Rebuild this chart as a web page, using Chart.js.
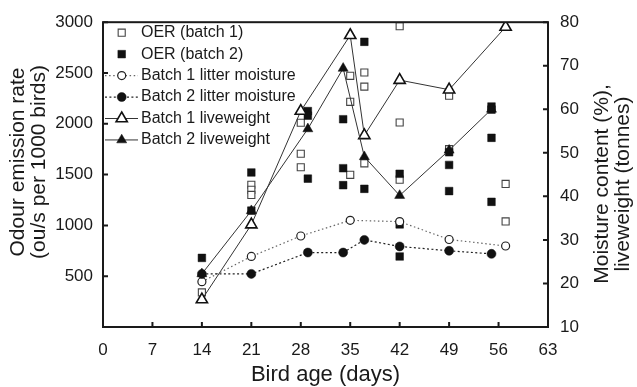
<!DOCTYPE html>
<html><head><meta charset="utf-8">
<script src="https://cdn.jsdelivr.net/npm/chart.js@4/dist/chart.umd.min.js"></script>
<style>html,body{margin:0;padding:0;background:#fff;}#wrap{width:637px;height:387px;}</style>
</head><body><div id="wrap"><canvas id="c" width="637" height="387"></canvas></div>
<script>
// ---- data ----
const oer1Days = [14,21,21,21,28,28,28,35,35,35,37,37,37,42,42,42,49,49,57,57];
const oer1Vals = [340,1400,1350,1300,2010,1705,1572,2472,2216,1498,2505,2366,1611,2961,2013,1450,2276,1750,1408,1039];
const oer2Days = [14,21,21,29,29,29,34,34,34,37,37,42,42,42,49,49,49,55,55,55,55];
const oer2Vals = [680,1521,1145,2125,2080,1460,2045,1563,1396,2807,1360,1508,1010,694,1720,1595,1338,2170,2140,1862,1232];
const moist1Days = [14,21,28,35,42,49,57];
const moist1Vals = [20.4,26.2,30.9,34.5,34.2,30.1,28.6];
const moist2Days = [14,21,29,34,37,42,49,55];
const moist2Vals = [22.2,22.2,27.1,27.1,30.0,28.5,27.5,26.8];
const lw1Days = [14,21,28,35,37,42,49,57];
const lw1Vals = [16.3,33.5,59.6,77.0,54.0,66.7,64.5,78.9];
const lw2Days = [14,21,29,34,37,42,49,55];
const lw2Vals = [22.2,36.7,55.5,69.4,49.1,40.2,50.6,60.0];
const seriesNames = ['OER (batch 1)','OER (batch 2)','Batch 1 litter moisture','Batch 2 litter moisture','Batch 1 liveweight','Batch 2 liveweight'];
const xTitle = 'Bird age (days)';
const yTitleLines = ['Odour emission rate','(ou/s per 1000 birds)'];
const y1TitleLines = ['Moisture content (%),','liveweight (tonnes)'];

const pts = (d, v) => d.map((x, i) => ({x: x, y: v[i]}));
const FONT = '"Liberation Sans", Arial, Helvetica, sans-serif';
const INK = '#1a1a1a';
Chart.defaults.font.family = FONT;
Chart.defaults.color = INK;

const datasets = [
  {label: seriesNames[0], data: pts(oer1Days, oer1Vals), yAxisID: 'y', showLine: false, order: 6,
   pointStyle: 'rect', pointRadius: 5, pointBackgroundColor: '#fff', pointBorderColor: '#444', pointBorderWidth: 1.1},
  {label: seriesNames[1], data: pts(oer2Days, oer2Vals), yAxisID: 'y', showLine: false, order: 5,
   pointStyle: 'rect', pointRadius: 5.4, pointBackgroundColor: '#111', pointBorderColor: '#111', pointBorderWidth: 0.5},
  {label: seriesNames[2], data: pts(moist1Days, moist1Vals), yAxisID: 'y1', showLine: true, order: 2,
   borderColor: '#666', borderWidth: 1.2, borderDash: [1.5, 2.6],
   pointStyle: 'circle', pointRadius: 4, pointBackgroundColor: '#fff', pointBorderColor: '#222', pointBorderWidth: 1.2},
  {label: seriesNames[3], data: pts(moist2Days, moist2Vals), yAxisID: 'y1', showLine: true, order: 1,
   borderColor: '#222', borderWidth: 1.2, borderDash: [2, 2.4],
   pointStyle: 'circle', pointRadius: 4.5, pointBackgroundColor: '#111', pointBorderColor: '#111', pointBorderWidth: 0.5},
  {label: seriesNames[4], data: pts(lw1Days, lw1Vals), yAxisID: 'y1', showLine: true, order: 4,
   borderColor: '#333', borderWidth: 1,
   pointStyle: 'triangle', pointRadius: 6.5, pointBackgroundColor: '#fff', pointBorderColor: '#111', pointBorderWidth: 1.6},
  {label: seriesNames[5], data: pts(lw2Days, lw2Vals), yAxisID: 'y1', showLine: true, order: 3,
   borderColor: '#333', borderWidth: 1,
   pointStyle: 'triangle', pointRadius: 5.8, pointBackgroundColor: '#111', pointBorderColor: '#111', pointBorderWidth: 0.5}
];

const framePlugin = {
  id: 'frameTicks',
  afterDatasetsDraw(chart) {
    const ctx = chart.ctx, a = chart.chartArea;
    ctx.save();
    ctx.strokeStyle = INK; ctx.lineWidth = 2;
    ctx.strokeRect(a.left, a.top, a.right - a.left, a.bottom - a.top);
    const L = 5;
    ctx.beginPath();
    chart.scales.x.ticks.forEach(t => { const p = chart.scales.x.getPixelForValue(t.value); ctx.moveTo(p, a.bottom); ctx.lineTo(p, a.bottom - L); });
    chart.scales.y.ticks.forEach(t => { if (t.value === 0) return; const p = chart.scales.y.getPixelForValue(t.value); ctx.moveTo(a.left, p); ctx.lineTo(a.left + L, p); });
    chart.scales.y1.ticks.forEach(t => { const p = chart.scales.y1.getPixelForValue(t.value); ctx.moveTo(a.right, p); ctx.lineTo(a.right - L, p); });
    ctx.stroke();
    ctx.restore();
  }
};

const legendPlugin = {
  id: 'insideLegend',
  afterDraw(chart) {
    const ctx = chart.ctx;
    const x0 = 105, x1 = 138, xm = 121.7, xt = 141, y0 = 32.7, dy = 21.45;
    chart.data.datasets.forEach((ds, i) => {
      const y = y0 + i * dy;
      ctx.save();
      if (ds.showLine) {
        ctx.strokeStyle = ds.borderColor; ctx.lineWidth = ds.borderWidth;
        ctx.setLineDash(ds.borderDash || []);
        ctx.beginPath(); ctx.moveTo(x0, y); ctx.lineTo(x1, y); ctx.stroke();
        ctx.setLineDash([]);
      }
      ctx.fillStyle = ds.pointBackgroundColor; ctx.strokeStyle = ds.pointBorderColor; ctx.lineWidth = ds.pointBorderWidth;
      Chart.helpers.drawPoint(ctx, {pointStyle: ds.pointStyle, radius: ds.pointRadius, rotation: 0, borderWidth: ds.pointBorderWidth}, xm, y);
      ctx.fillStyle = INK; ctx.font = '16px ' + FONT; ctx.textBaseline = 'middle'; ctx.textAlign = 'left';
      ctx.fillText(ds.label, xt, y);
      ctx.restore();
    });
  }
};

const yTitlesPlugin = {
  id: 'yTitles',
  afterDraw(chart) {
    const ctx = chart.ctx;
    const draw = (lines, xs, yc) => {
      lines.forEach((s, i) => {
        ctx.save();
        ctx.translate(xs[i], yc); ctx.rotate(-Math.PI / 2);
        ctx.fillStyle = INK; ctx.font = '21px ' + FONT; ctx.textAlign = 'center'; ctx.textBaseline = 'middle';
        ctx.fillText(s, 0, 0);
        ctx.restore();
      });
    };
    draw(yTitleLines, [18, 39], 162);
    draw(y1TitleLines, [602, 623], 184);
  }
};

const tickFont = {family: FONT, size: 17};
new Chart(document.getElementById('c'), {
  type: 'scatter',
  data: {datasets: datasets},
  options: {
    responsive: false, animation: false, devicePixelRatio: 1,
    layout: {padding: {top: 16, left: 0, right: 0, bottom: 0}},
    plugins: {legend: {display: false}, tooltip: {enabled: false}},
    scales: {
      x: {type: 'linear', position: 'bottom', min: 0, max: 63,
        ticks: {stepSize: 7, padding: 13, color: INK, font: tickFont, maxRotation: 0, autoSkip: false, callback: v => String(v)},
        grid: {display: false, drawTicks: false}, border: {display: false},
        title: {display: true, text: xTitle, color: INK, font: {family: FONT, size: 22, lineHeight: 1}, padding: {top: 0, bottom: 1}},
        afterFit(s) { s.height = 60; }},
      y: {type: 'linear', position: 'left', min: 0, max: 3000,
        ticks: {stepSize: 500, padding: 10, color: INK, font: tickFont, callback: v => v === 0 ? '' : String(v)},
        grid: {display: false, drawTicks: false}, border: {display: false},
        afterFit(s) { s.width = 103; }},
      y1: {type: 'linear', position: 'right', min: 10, max: 80,
        ticks: {stepSize: 10, padding: 12, color: INK, font: tickFont, callback: v => String(v)},
        grid: {display: false, drawTicks: false}, border: {display: false},
        afterFit(s) { s.width = 89; }}
    }
  },
  plugins: [framePlugin, legendPlugin, yTitlesPlugin]
});
</script></body></html>
